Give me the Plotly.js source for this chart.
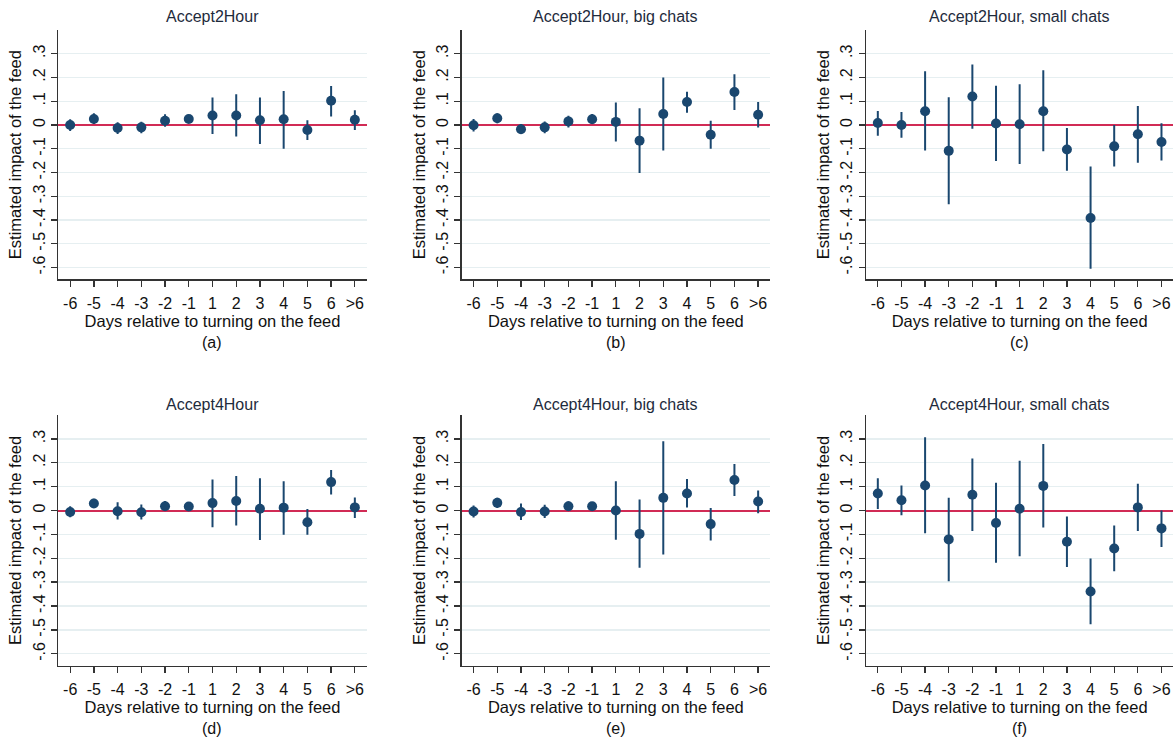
<!DOCTYPE html>
<html>
<head>
<meta charset="utf-8">
<script src="https://cdn.plot.ly/plotly-3.0.1.min.js"></script>
<style>html,body{margin:0;padding:0;background:#fff;}#chart{width:1175px;height:738px;}</style>
</head>
<body>
<div id="chart"></div>
<script>
// Categories (days relative to turning on the feed)
const days = ["-6","-5","-4","-3","-2","-1","1","2","3","4","5","6",">6"];
const yTickVals = [-0.6,-0.5,-0.4,-0.3,-0.2,-0.1,0,0.1,0.2,0.3];
const yTickText = ["-.6","-.5","-.4","-.3","-.2","-.1","0",".1",".2",".3"];

const panelTitles = ["Accept2Hour","Accept2Hour, big chats","Accept2Hour, small chats",
                     "Accept4Hour","Accept4Hour, big chats","Accept4Hour, small chats"];
const panelLetters = ["(a)","(b)","(c)","(d)","(e)","(f)"];

// (a) Accept2Hour
const est_a = [0.000,0.025,-0.013,-0.010,0.018,0.025,0.040,0.040,0.020,0.024,-0.021,0.102,0.022];
const hi_a  = [0.024,0.049,0.011,0.014,0.045,0.042,0.116,0.129,0.116,0.143,0.020,0.164,0.062];
const lo_a  = [-0.025,0.004,-0.038,-0.035,-0.008,0.010,-0.038,-0.049,-0.080,-0.100,-0.063,0.036,-0.021];
// (b) Accept2Hour, big chats
const est_b = [-0.001,0.028,-0.018,-0.010,0.015,0.024,0.013,-0.066,0.046,0.097,-0.041,0.139,0.043];
const hi_b  = [0.025,0.049,0.004,0.015,0.039,0.046,0.095,0.070,0.200,0.140,0.018,0.214,0.097];
const lo_b  = [-0.028,0.007,-0.038,-0.035,-0.011,0.004,-0.070,-0.202,-0.108,0.052,-0.100,0.063,-0.011];
// (c) Accept2Hour, small chats
const est_c = [0.008,0.000,0.058,-0.109,0.120,0.006,0.003,0.058,-0.103,-0.392,-0.090,-0.039,-0.072];
const hi_c  = [0.059,0.055,0.226,0.117,0.255,0.165,0.171,0.230,-0.013,-0.175,0.000,0.080,0.007];
const lo_c  = [-0.045,-0.054,-0.107,-0.334,-0.016,-0.152,-0.164,-0.111,-0.193,-0.606,-0.175,-0.159,-0.150];
// (d) Accept4Hour
const est_d = [-0.006,0.029,-0.003,-0.007,0.018,0.017,0.031,0.040,0.007,0.012,-0.049,0.119,0.013];
const hi_d  = [0.018,0.049,0.035,0.025,0.040,0.031,0.130,0.144,0.135,0.123,0.006,0.170,0.054];
const lo_d  = [-0.028,0.010,-0.038,-0.038,0.000,0.003,-0.070,-0.063,-0.124,-0.102,-0.102,0.067,-0.031];
// (e) Accept4Hour, big chats
const est_e = [-0.004,0.032,-0.006,-0.004,0.018,0.018,0.000,-0.098,0.053,0.071,-0.057,0.128,0.038];
const hi_e  = [0.021,0.053,0.029,0.024,0.039,0.035,0.123,0.046,0.290,0.132,0.010,0.195,0.084];
const lo_e  = [-0.029,0.011,-0.040,-0.031,-0.001,0.001,-0.123,-0.240,-0.184,0.013,-0.126,0.061,-0.011];
// (f) Accept4Hour, small chats
const est_f = [0.071,0.043,0.105,-0.121,0.066,-0.052,0.007,0.103,-0.131,-0.339,-0.159,0.013,-0.075];
const hi_f  = [0.135,0.105,0.307,0.053,0.218,0.116,0.208,0.279,-0.025,-0.201,-0.063,0.112,0.000];
const lo_f  = [0.006,-0.020,-0.095,-0.296,-0.086,-0.219,-0.192,-0.071,-0.237,-0.476,-0.254,-0.086,-0.153];

const est = [est_a,est_b,est_c,est_d,est_e,est_f];
const hi  = [hi_a,hi_b,hi_c,hi_d,hi_e,hi_f];
const lo  = [lo_a,lo_b,lo_c,lo_d,lo_e,lo_f];

const W = 1175, H = 738;
const xPx = [[58.3,366.7],[461.7,770],[866,1173.3]];
const yPx = [[30,279.3],[415,665.7]];
const navy = "#1a476f";
const red = "#d12b55";
const font = "Liberation Sans, Arial, sans-serif";

const traces = [];
const layout = {
  width: W, height: H,
  margin: {l:0,r:0,t:0,b:0},
  paper_bgcolor: "#ffffff",
  plot_bgcolor: "#ffffff",
  showlegend: false,
  font: {family: font, size: 14, color: "#222"},
  annotations: []
};

for (let i = 0; i < 6; i++) {
  const r = Math.floor(i/3), c = i % 3;
  const n = i + 1;
  const xa = "x" + (n === 1 ? "" : n), ya = "y" + (n === 1 ? "" : n);
  const xk = "xaxis" + (n === 1 ? "" : n), yk = "yaxis" + (n === 1 ? "" : n);
  const errPlus = est[i].map((v,k) => hi[i][k] - v);
  const errMinus = est[i].map((v,k) => v - lo[i][k]);
  traces.push({
    type: "scatter", mode: "markers",
    x: days, y: est[i], xaxis: xa, yaxis: ya,
    marker: {color: navy, size: 10},
    error_y: {type: "data", symmetric: false, array: errPlus, arrayminus: errMinus,
              color: navy, thickness: 2, width: 0},
    hoverinfo: "x+y"
  });
  const xd = [xPx[c][0]/W, xPx[c][1]/W];
  const yd = [1 - yPx[r][1]/H, 1 - yPx[r][0]/H];
  layout[xk] = {
    domain: xd, anchor: ya, type: "category",
    range: [-0.5, 12.5],
    showgrid: false, zeroline: false,
    showline: true, linecolor: "#333", linewidth: 1.3,
    ticks: "outside", ticklen: 6, tickcolor: "#333", tickwidth: 1.3,
    tickfont: {family: font, size: 16, color: "#111"},
    ticklabelstandoff: 3,
    automargin: false,
    title: {text: "Days relative to turning on the feed", font: {family: font, size: 16.5, color: "#111"}, standoff: 0}
  };
  layout[yk] = {
    domain: yd, anchor: xa,
    range: [-0.65, 0.40],
    tickvals: yTickVals, ticktext: yTickText, tickangle: -90,
    showgrid: true, gridcolor: "#e6eff1", gridwidth: 1.3,
    zeroline: true, zerolinecolor: red, zerolinewidth: 2,
    showline: true, linecolor: "#333", linewidth: 1.3,
    ticks: "outside", ticklen: 6, tickcolor: "#333", tickwidth: 1.3,
    tickfont: {family: font, size: 16, color: "#111"},
    automargin: false,
    title: {text: "Estimated impact of the feed", font: {family: font, size: 16.5, color: "#111"}, standoff: 4}
  };
  layout.annotations.push({
    text: panelTitles[i], xref: "paper", yref: "paper",
    x: (xd[0]+xd[1])/2, y: 1 - (r === 0 ? 17 : 404)/H,
    xanchor: "center", yanchor: "middle", showarrow: false,
    font: {family: font, size: 16, color: "#1e2b3c"}
  });
  layout.annotations.push({
    text: panelLetters[i], xref: "paper", yref: "paper",
    x: (xd[0]+xd[1])/2, y: 1 - (r === 0 ? 342 : 728)/H,
    xanchor: "center", yanchor: "middle", showarrow: false,
    font: {family: font, size: 16, color: "#111"}
  });
}

Plotly.newPlot("chart", traces, layout, {displayModeBar: false, staticPlot: true});
</script>
</body>
</html>
